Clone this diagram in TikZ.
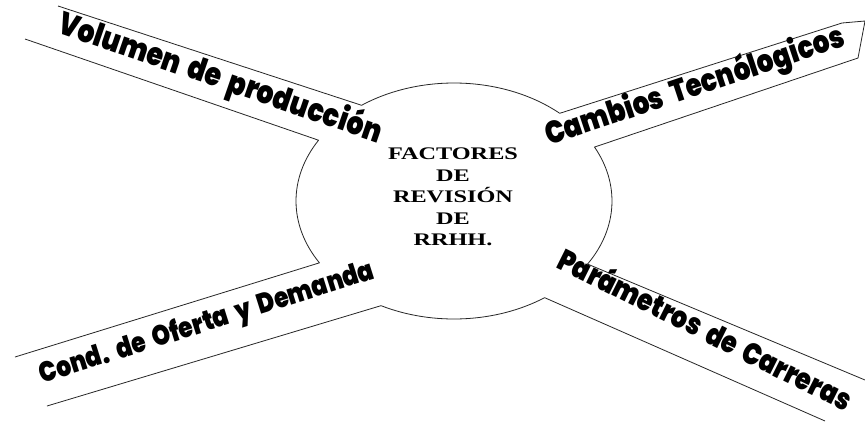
\documentclass[tikz,border=0pt]{standalone}
\usepackage{fontspec}
\usepackage{graphicx}
\usetikzlibrary{calc}
\IfFontExistsTF{Poppins Black}
  {\newfontfamily\bandfont{Poppins Black}[WordSpace=1.9]\newcommand{\bandys}{1.2}}
  {\newfontfamily\bandfont{DejaVu Sans Bold}[FakeBold=3]\newcommand{\bandys}{1.2}}
\newfontfamily\ctrfont{Liberation Serif}
\newcommand{\bandtxt}[2]{\resizebox{#1}{!}{\scalebox{1}[\bandys]{#2}}}
\begin{document}
\begin{tikzpicture}[x=1pt,y=-1pt,
  ln/.style={line width=0.8pt, draw=black!85, line join=round},
  bandtext/.style={inner sep=0pt, font=\bandfont},
  elarc/.style={x radius=158, y radius=118}]
\useasboundingbox[fill=white] (0,0) rectangle (865,421);
\coordinate (c) at (454,201);
\path (c) ++(-125.8:158 and 118) coordinate (p1);
\path (c) ++(-149:158 and 118) coordinate (p2);
\path (c) ++(148.4:158 and 118) coordinate (p3);
\path (c) ++(117.5:158 and 118) coordinate (p4);
\path (c) ++(55:158 and 118) coordinate (p5);
\path (c) ++(32.3:158 and 118) coordinate (p6);
\path (c) ++(-27.2:158 and 118) coordinate (p7);
\path (c) ++(-48:158 and 118) coordinate (p8);
\coordinate (v1) at (58,6);
\coordinate (v2) at (25,39);
\coordinate (o1) at (15,357);
\coordinate (o2) at (47,406);
\coordinate (pa1) at (865,380);
\coordinate (pa2) at (825,421);
\coordinate (cb1) at (842,23);
\coordinate (cb2) at (865,21);
\coordinate (cb3) at (858,58);
% outline
\draw[ln] (v1) -- (p1) arc[start angle=-125.8, end angle=-48, elarc] -- (cb1) -- (cb2) -- (cb3) -- (p7)
  arc[start angle=-27.2, end angle=32.3, elarc] -- (pa1);
\draw[ln] (pa2) -- (p5) arc[start angle=55, end angle=117.5, elarc] -- (o2);
\draw[ln] (o1) -- (p3) arc[start angle=148.4, end angle=211, elarc] -- (v2);
% band texts
\node[bandtext, rotate=-19] (vol) at (220,79) {\bandtxt{340pt}{Volumen de producción}};
\node[bandtext, rotate=18.5] (cam) at (695,87) {\bandtxt{314pt}{Cambios Tecnólogicos}};
\node[bandtext, rotate=17.5] (ofe) at (207,324) {\bandtxt{350pt}{Cond. de Oferta y Demanda}};
\node[bandtext, rotate=-26.5] (par) at (706,328) {\bandtxt{324pt}{Parámetros de Carreras}};
% centre
\node[font=\ctrfont\bfseries\fontsize{17.7}{21.5}\selectfont, align=center, xscale=1.37, inner sep=0pt] (ctr) at (453,197)
  {FACTORES\\DE\\REVISIÓN\\DE\\RRHH.};
\end{tikzpicture}
\end{document}
